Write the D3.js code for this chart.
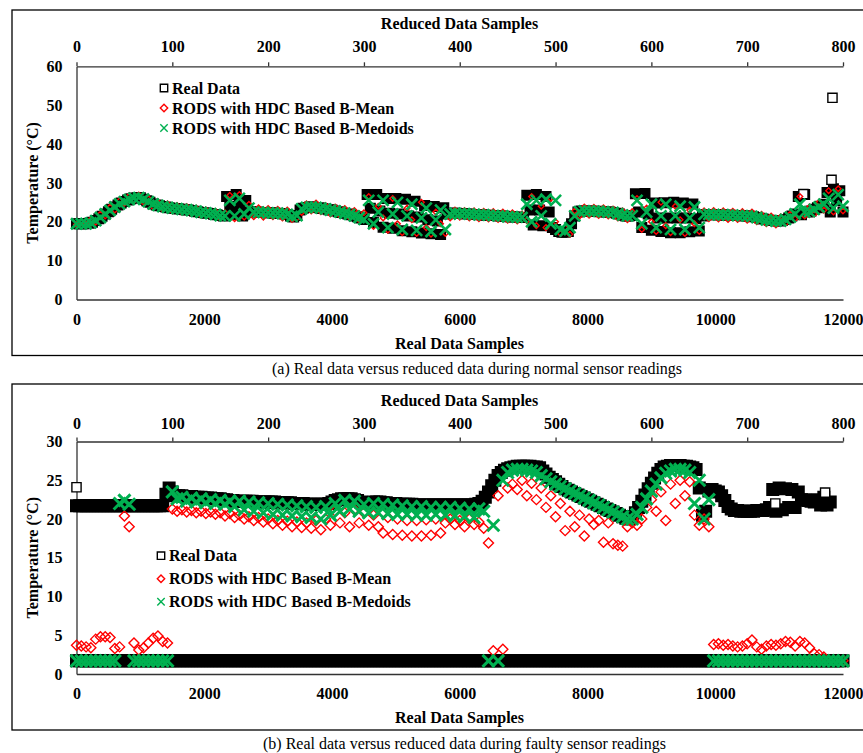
<!DOCTYPE html>
<html>
<head>
<meta charset="utf-8">
<script src="https://cdn.jsdelivr.net/npm/d3@7"></script>
<style>
  body { margin: 0; background: #fff; }
  svg { display: block; }
</style>
</head>
<body>
<div id="chart"></div>
<script>
// ---- data ----
const REAL_STEP = 50;   // real samples between two readings below
const RED_STEP = 5;     // reduced samples between two readings below

const realTicks = [0, 2000, 4000, 6000, 8000, 10000, 12000];
const reducedTicks = [0, 100, 200, 300, 400, 500, 600, 700, 800];
const tempTicksTop = [0, 10, 20, 30, 40, 50, 60];
const tempTicksBottom = [0, 5, 10, 15, 20, 25, 30];

const seriesNames = ["Real Data", "RODS with HDC Based B-Mean", "RODS with HDC Based B-Medoids"];

// (a) normal readings, real data every 50 samples (0..12000)
const realTop = [
  19.5, 19.5, 19.5, 19.5, 19.6, 19.9, 20.3, 20.8, 21.4, 22.0,
  22.6, 23.2, 23.8, 24.3, 24.8, 25.2, 25.6, 25.9, 26.1, 26.2,
  26.2, 25.8, 25.4, 25.0, 24.6, 24.3, 24.1, 23.9, 23.8, 23.6,
  23.5, 23.4, 23.3, 23.2, 23.1, 23.0, 22.9, 22.7, 22.6, 22.4,
  22.3, 22.2, 22.1, 21.9, 21.8, 21.6, 21.5, 26.5, 24.0, 21.8,
  27.0, 24.2, 21.5, 25.5, 22.6, 22.6, 22.5, 22.5, 22.4, 22.4,
  22.3, 22.3, 22.2, 22.2, 22.1, 22.0, 21.9, 21.5, 21.2, 21.6,
  23.0, 23.5, 23.7, 23.8, 23.8, 23.7, 23.6, 23.4, 23.3, 23.1,
  23.0, 22.8, 22.6, 22.4, 22.2, 22.0, 21.8, 21.5, 21.3, 21.0,
  20.6, 27.0, 23.5, 19.8, 27.0, 22.8, 18.6, 26.0, 22.2, 18.3,
  26.0, 22.0, 17.7, 25.8, 21.5, 17.4, 25.3, 21.2, 17.1, 24.2,
  20.5, 16.9, 23.9, 20.2, 16.7, 23.6, 22.0, 22.2, 22.2, 22.2,
  22.1, 22.1, 22.0, 22.0, 21.9, 21.9, 21.8, 21.8, 21.7, 21.7,
  21.6, 21.6, 21.5, 21.5, 21.4, 21.3, 21.3, 21.2, 21.2, 21.1,
  21.1, 26.8, 23.0, 19.2, 27.0, 23.0, 19.0, 26.5, 22.5, 18.5,
  18.0, 17.5, 17.3, 17.3, 17.5, 19.5, 21.5, 22.5, 22.8, 22.8,
  22.8, 22.7, 22.7, 22.7, 22.6, 22.6, 22.5, 22.5, 22.4, 22.2,
  22.0, 21.7, 21.5, 21.5, 21.6, 27.2, 22.5, 18.5, 27.3, 22.0,
  17.8, 24.8, 21.0, 17.5, 24.9, 21.0, 17.2, 25.0, 21.0, 17.2,
  24.8, 21.0, 17.4, 24.6, 20.8, 17.6, 21.5, 21.9, 21.9, 21.8,
  21.8, 21.8, 21.8, 21.7, 21.7, 21.7, 21.6, 21.6, 21.6, 21.5,
  21.5, 21.4, 21.3, 21.1, 20.9, 20.7, 20.5, 20.4, 20.3, 20.2,
  20.2, 20.3, 20.6, 21.0, 21.5, 22.0, 26.5, 21.8, 27.0, 22.5,
  22.8, 23.2, 23.6, 24.0, 24.5, 27.5, 22.5, 28.5, 25.5, 28.0,
  22.5
];
const realTopOddSamples = [11380, 11820, 11835];
const realTopOddValues = [27.1, 30.8, 51.9];

// (a) reduced data every 5 reduced samples (0..800)
const meanTop = [
  19.3, 19.8, 19.4, 20.6, 19.9, 22.0, 21.5, 23.8, 23.0, 25.4,
  24.8, 26.6, 25.4, 26.9, 25.0, 26.0, 23.8, 25.1, 23.2, 24.6,
  22.8, 24.2, 22.5, 23.9, 22.2, 23.5, 21.7, 23.1, 21.4, 22.7,
  21.0, 22.3, 26.8, 20.8, 27.0, 21.2, 24.5, 21.3, 23.6, 21.2,
  23.4, 21.3, 23.2, 21.0, 23.0, 20.6, 21.0, 22.4, 24.6, 22.8,
  24.8, 22.6, 24.2, 22.0, 23.8, 21.6, 23.4, 21.2, 22.9, 20.5,
  22.3, 26.5, 18.8, 24.0, 21.0, 17.8, 26.0, 19.5, 17.2, 23.5,
  20.5, 17.0, 25.0, 18.5, 16.8, 22.5, 19.5, 17.0, 21.0, 23.0,
  21.2, 22.9, 21.0, 22.8, 20.8, 22.7, 20.7, 22.6, 20.6, 22.5,
  20.4, 22.3, 20.2, 22.0, 20.3, 26.5, 19.0, 24.0, 18.5, 26.0,
  20.0, 17.0, 18.5, 16.8, 22.8, 21.5, 23.8, 21.7, 23.7, 21.6,
  23.6, 21.5, 23.3, 21.0, 22.8, 20.5, 22.6, 26.0, 18.0, 23.5,
  20.0, 17.5, 25.0, 19.0, 17.2, 24.0, 20.5, 17.0, 23.0, 19.5,
  17.5, 22.8, 20.8, 22.9, 20.7, 22.8, 20.6, 22.7, 20.6, 22.6,
  20.4, 22.5, 20.0, 21.9, 19.5, 21.5, 19.2, 21.3, 19.6, 22.0,
  20.8, 26.5, 21.5, 23.8, 22.0, 25.0, 23.0, 28.0, 22.5, 28.5,
  22.8
];
const medoidTop = [
  19.5, 19.5, 19.5, 19.7, 20.3, 21.1, 22.0, 22.9, 23.8, 24.6,
  25.2, 25.7, 26.1, 26.2, 25.8, 25.2, 24.6, 24.2, 23.9, 23.7,
  23.5, 23.4, 23.2, 23.1, 22.9, 22.7, 22.4, 22.3, 22.1, 21.9,
  21.6, 21.5, 25.5, 21.5, 26.0, 22.0, 23.5, 22.5, 22.5, 22.4,
  22.3, 22.3, 22.2, 22.1, 21.9, 21.4, 21.6, 23.3, 23.7, 23.8,
  23.7, 23.5, 23.3, 23.0, 22.8, 22.5, 22.2, 21.9, 21.5, 21.1,
  20.6, 25.5, 19.5, 22.5, 25.5, 18.5, 22.0, 25.0, 18.0, 21.5,
  24.5, 17.8, 21.0, 23.5, 17.5, 20.5, 23.0, 18.0, 22.0, 22.2,
  22.1, 22.1, 22.0, 21.9, 21.8, 21.8, 21.7, 21.6, 21.5, 21.5,
  21.3, 21.3, 21.2, 21.1, 24.5, 20.0, 25.5, 21.5, 25.8, 19.5,
  25.5, 18.0, 17.6, 18.5, 21.5, 22.6, 22.8, 22.8, 22.7, 22.7,
  22.6, 22.5, 22.4, 22.1, 21.7, 21.5, 21.6, 25.5, 19.5, 22.5,
  24.5, 18.5, 21.5, 24.5, 18.0, 21.5, 24.0, 18.0, 21.0, 23.8,
  18.5, 21.9, 21.9, 21.8, 21.8, 21.8, 21.7, 21.7, 21.6, 21.6,
  21.5, 21.4, 21.1, 20.8, 20.5, 20.3, 20.2, 20.2, 20.6, 21.2,
  22.0, 24.5, 22.5, 22.6, 23.2, 23.8, 24.5, 26.0, 23.5, 27.0,
  24.0
];

// (b) faulty readings, real data every 50 samples (0..11800)
const realBottom = [
  21.7, 21.7, 21.7, 21.7, 21.7, 21.7, 21.7, 21.7, 21.7, 21.7,
  21.7, 21.7, 21.7, 21.7, 21.7, 21.7, 21.7, 21.7, 21.7, 21.7,
  21.7, 21.7, 21.7, 21.7, 21.7, 21.7, 21.7, 21.7, 23.2, 24.0,
  23.5, 23.0, 23.0, 23.0, 22.9, 22.9, 22.9, 22.8, 22.8, 22.8,
  22.7, 22.7, 22.7, 22.6, 22.6, 22.6, 22.5, 22.5, 22.4, 22.4,
  22.3, 22.3, 22.3, 22.3, 22.3, 22.3, 22.2, 22.2, 22.2, 22.2,
  22.2, 22.2, 22.2, 22.1, 22.1, 22.1, 22.1, 22.1, 22.0, 22.0,
  22.0, 22.0, 21.9, 21.9, 21.9, 21.9, 21.9, 21.9, 21.9, 22.0,
  22.2, 22.4, 22.5, 22.6, 22.6, 22.6, 22.6, 22.5, 22.4, 22.2,
  22.1, 22.1, 22.1, 22.2, 22.2, 22.2, 22.1, 22.1, 22.0, 22.0,
  22.0, 21.9, 21.9, 21.9, 21.9, 21.9, 21.8, 21.8, 21.8, 21.8,
  21.8, 21.8, 21.8, 21.8, 21.8, 21.8, 21.8, 21.8, 21.8, 21.8,
  21.8, 21.8, 21.8, 21.8, 21.8, 21.9, 22.0, 22.3, 22.8, 23.5,
  24.3, 25.0, 25.6, 26.0, 26.3, 26.5, 26.6, 26.7, 26.8, 26.8,
  26.8, 26.8, 26.8, 26.7, 26.7, 26.6, 26.2, 25.8, 25.4, 25.1,
  24.8, 24.5, 24.2, 23.9, 23.7, 23.5, 23.3, 23.1, 22.9, 22.7,
  22.5, 22.3, 22.1, 21.9, 21.7, 21.5, 21.3, 21.1, 20.9, 20.7,
  20.5, 20.3, 20.1, 20.0, 20.3, 20.8, 21.5, 22.3, 23.1, 23.9,
  24.6, 25.3, 25.9, 26.4, 26.7, 26.8, 26.9, 26.9, 26.9, 26.9,
  26.8, 26.8, 26.7, 26.6, 26.4, 24.0, 20.5, 21.0, 23.6, 23.8,
  23.6, 23.5, 23.0, 22.4, 21.6, 21.3, 21.1, 21.1, 21.0, 21.0,
  21.0, 21.0, 21.0, 21.1, 21.1, 21.1, 21.2, 21.5, 23.8, 21.0,
  24.0, 21.2, 23.9, 21.5, 23.8, 21.5, 23.5, 22.5, 22.5, 22.4,
  22.3, 22.2, 22.5, 21.8, 22.8, 21.8, 22.2
];
// faulty sensor readings of the real data, every 50 samples (0..12000)
const realBottomFault = [
  1.7, 1.7, 1.7, 1.7, 1.7, 1.7, 1.7, 1.7, 1.7, 1.7,
  1.7, 1.7, 1.7, 1.7, 1.7, 1.7, 1.7, 1.7, 1.7, 1.7,
  1.7, 1.7, 1.7, 1.7, 1.7, 1.7, 1.7, 1.7, 1.7, 1.7,
  1.7, 1.7, 1.7, 1.7, 1.7, 1.7, 1.7, 1.7, 1.7, 1.7,
  1.7, 1.7, 1.7, 1.7, 1.7, 1.7, 1.7, 1.7, 1.7, 1.7,
  1.7, 1.7, 1.7, 1.7, 1.7, 1.7, 1.7, 1.7, 1.7, 1.7,
  1.7, 1.7, 1.7, 1.7, 1.7, 1.7, 1.7, 1.7, 1.7, 1.7,
  1.7, 1.7, 1.7, 1.7, 1.7, 1.7, 1.7, 1.7, 1.7, 1.7,
  1.7, 1.7, 1.7, 1.7, 1.7, 1.7, 1.7, 1.7, 1.7, 1.7,
  1.7, 1.7, 1.7, 1.7, 1.7, 1.7, 1.7, 1.7, 1.7, 1.7,
  1.7, 1.7, 1.7, 1.7, 1.7, 1.7, 1.7, 1.7, 1.7, 1.7,
  1.7, 1.7, 1.7, 1.7, 1.7, 1.7, 1.7, 1.7, 1.7, 1.7,
  1.7, 1.7, 1.7, 1.7, 1.7, 1.7, 1.7, 1.7, 1.7, 1.7,
  1.7, 1.7, 1.7, 1.7, 1.7, 1.7, 1.7, 1.7, 1.7, 1.7,
  1.7, 1.7, 1.7, 1.7, 1.7, 1.7, 1.7, 1.7, 1.7, 1.7,
  1.7, 1.7, 1.7, 1.7, 1.7, 1.7, 1.7, 1.7, 1.7, 1.7,
  1.7, 1.7, 1.7, 1.7, 1.7, 1.7, 1.7, 1.7, 1.7, 1.7,
  1.7, 1.7, 1.7, 1.7, 1.7, 1.7, 1.7, 1.7, 1.7, 1.7,
  1.7, 1.7, 1.7, 1.7, 1.7, 1.7, 1.7, 1.7, 1.7, 1.7,
  1.7, 1.7, 1.7, 1.7, 1.7, 1.7, 1.7, 1.7, 1.7, 1.7,
  1.7, 1.7, 1.7, 1.7, 1.7, 1.7, 1.7, 1.7, 1.7, 1.7,
  1.7, 1.7, 1.7, 1.7, 1.7, 1.7, 1.7, 1.7, 1.7, 1.7,
  1.7, 1.7, 1.7, 1.7, 1.7, 1.7, 1.7, 1.7, 1.7, 1.7,
  1.7, 1.7, 1.7, 1.7, 1.7, 1.7, 1.7, 1.7, 1.7, 1.7,
  1.7
];
const realBottomOddSamples = [0, 10940, 11720];
const realBottomOddValues = [24.1, 22.0, 23.4];

// (b) reduced data every 5 reduced samples (0..800)
const meanBottom = [
  3.7, 3.6, 3.5, 3.4, 4.5, 4.8, 4.8, 4.7, 3.3, 3.5,
  20.4, 19.0, 4.0, 3.1, 3.4, 4.0, 4.6, 4.9, 4.2, 4.0,
  21.3, 21.0, 21.2, 20.9, 21.1, 20.8, 21.0, 20.7, 20.9, 20.6,
  20.8, 20.4, 20.7, 20.2, 20.5, 20.0, 20.3, 19.8, 20.2, 19.6,
  20.0, 19.4, 19.8, 19.2, 19.7, 19.0, 19.6, 18.9, 19.5, 18.8,
  19.8, 18.6, 20.0, 19.2, 21.0, 19.5, 20.8, 19.0, 21.2, 19.5,
  20.8, 19.2, 20.5, 19.0, 18.2, 20.2, 18.0, 20.0, 17.9, 19.8,
  17.8, 19.8, 17.8, 19.9, 17.9, 20.0, 18.2, 19.5, 20.0, 19.3,
  19.8, 19.0, 20.0, 19.3, 19.6, 18.8, 16.9, 3.0, 23.0, 3.2,
  24.0, 24.5, 23.8, 25.0, 23.0, 24.6, 22.5, 24.0, 21.5, 23.0,
  20.3, 22.0, 18.5, 21.0, 19.0, 20.5, 17.8, 20.0, 19.3, 19.8,
  17.0, 19.5, 16.8, 16.6, 16.5, 19.0, 19.5, 19.2, 20.0, 21.5,
  22.5, 21.0, 23.5, 19.8, 24.5, 22.0, 25.0, 23.0, 24.8, 20.5,
  19.2, 20.0, 19.0, 3.8, 3.9, 3.7, 3.8, 3.6, 3.5, 3.6,
  3.9, 4.4, 3.5, 3.2, 3.6, 3.8, 3.7, 3.9, 4.2, 4.1,
  3.6, 4.2, 4.0, 3.4, 2.6, 2.5, 2.2, 1.7, 1.7, 1.7,
  1.7
];
const medoidBottom = [
  1.7, 1.7, 1.7, 1.7, 1.7, 1.7, 1.7, 1.7, 1.7, 22.0,
  22.4, 21.9, 1.7, 1.7, 1.7, 1.7, 1.7, 1.7, 1.7, 1.7,
  23.5, 22.6, 22.8, 22.3, 22.7, 22.2, 22.6, 22.1, 22.5, 22.0,
  22.4, 21.9, 22.3, 21.6, 22.3, 21.2, 22.2, 21.0, 22.1, 20.8,
  22.0, 20.6, 21.9, 20.5, 21.8, 20.4, 21.7, 20.3, 21.6, 20.2,
  21.5, 20.0, 21.6, 20.5, 22.0, 21.0, 22.4, 21.3, 22.3, 21.0,
  21.9, 20.8, 22.0, 20.8, 21.9, 20.7, 21.8, 20.6, 21.7, 20.6,
  21.6, 20.5, 21.6, 20.5, 21.5, 20.6, 21.5, 20.5, 21.5, 20.4,
  21.4, 20.3, 21.3, 20.2, 21.3, 21.0, 1.7, 19.2, 1.7, 25.0,
  26.0, 26.3, 26.4, 26.4, 26.3, 26.2, 26.0, 25.6, 25.2, 24.8,
  24.5, 24.2, 23.9, 23.6, 23.3, 23.0, 22.7, 22.4, 22.1, 21.8,
  21.5, 21.2, 20.9, 20.6, 20.3, 20.0, 20.0, 20.6, 21.5, 22.6,
  23.6, 24.5, 25.3, 25.9, 26.2, 26.4, 26.4, 26.3, 26.0, 22.0,
  25.0, 20.0, 22.5, 1.7, 1.7, 1.7, 1.7, 1.7, 1.7, 1.7,
  1.7, 1.7, 1.7, 1.7, 1.7, 1.7, 1.7, 1.7, 1.7, 1.7,
  1.7, 1.7, 1.7, 1.7, 1.7, 1.7, 1.7, 1.7, 1.7, 1.7,
  1.7
];

// ---- drawing ----
const W = 863, H = 753;
const FONT = "'Liberation Serif','Times New Roman','DejaVu Serif',serif";
const GREEN = "#00b050", RED = "#ff0000";

const svg = d3.select("#chart").append("svg").attr("width", W).attr("height", H);

const xReal = d3.scaleLinear().domain([0, 12000]).range([76.5, 843]);
const xRed = d3.scaleLinear().domain([0, 800]).range([76.5, 843]);

function markerPath(kind, cx, cy, h) {
  if (kind === "square") return `M${cx - h},${cy - h}h${2 * h}v${2 * h}h${-2 * h}Z`;
  if (kind === "diamond") return `M${cx},${cy - h}L${cx + h},${cy}L${cx},${cy + h}L${cx - h},${cy}Z`;
  return `M${cx - h},${cy - h}L${cx + h},${cy + h}M${cx - h},${cy + h}L${cx + h},${cy - h}`;
}

// dense runs of hollow markers overlap into a solid band, so fill can be set
function drawSeries(g, pts, kind, color, h, sw, fill) {
  g.append("g")
    .selectAll("path")
    .data(pts)
    .enter()
    .append("path")
    .attr("d", (d) => markerPath(kind, d[0], d[1], h))
    .attr("fill", fill || "none")
    .attr("stroke", color)
    .attr("stroke-width", sw);
}

function styleAxis(ax) {
  ax.attr("font-family", FONT).attr("font-size", 16).attr("font-weight", "bold");
  ax.selectAll("text").attr("fill", "#000");
  ax.selectAll("path, line").attr("stroke", "#333").attr("stroke-width", 1.3);
}

function drawPanel(p) {
  const g = svg.append("g");
  const y = d3.scaleLinear().domain([0, p.yMax]).range([p.yBottom, p.yTop]);
  const fmt = d3.format("d");

  // panel frame
  g.append("rect")
    .attr("x", 12).attr("y", p.boxTop)
    .attr("width", 880).attr("height", p.boxBottom - p.boxTop)
    .attr("fill", "none").attr("stroke", "#000").attr("stroke-width", 1.3);

  // axes
  const axB = g.append("g").attr("transform", `translate(0,${p.yBottom})`)
    .call(d3.axisBottom(xReal).tickValues(realTicks).tickFormat(fmt).tickSize(0).tickSizeOuter(0).tickPadding(14));
  styleAxis(axB);
  const axT = g.append("g").attr("transform", `translate(0,${p.yTop})`)
    .call(d3.axisTop(xRed).tickValues(reducedTicks).tickFormat(fmt).tickSize(4).tickSizeOuter(0).tickPadding(p.topPad));
  styleAxis(axT);
  const axL = g.append("g").attr("transform", `translate(${xReal(0)},0)`)
    .call(d3.axisLeft(y).tickValues(p.yTicks).tickFormat(fmt).tickSize(0).tickSizeOuter(0).tickPadding(14));
  styleAxis(axL);

  // axis titles
  g.append("text").attr("x", 459.5).attr("y", p.topTitleY).attr("text-anchor", "middle")
    .attr("font-family", FONT).attr("font-size", 16).attr("font-weight", "bold").text("Reduced Data Samples");
  g.append("text").attr("x", 459.5).attr("y", p.bottomTitleY).attr("text-anchor", "middle")
    .attr("font-family", FONT).attr("font-size", 16).attr("font-weight", "bold").text("Real Data Samples");
  g.append("text")
    .attr("transform", `translate(38,${(p.yTop + p.yBottom) / 2}) rotate(-90)`)
    .attr("text-anchor", "middle")
    .attr("font-family", FONT).attr("font-size", 16).attr("font-weight", "bold").text("Temperature (°C)");

  // caption
  g.append("text").attr("x", p.captionX).attr("y", p.captionY)
    .attr("font-family", FONT).attr("font-size", 16).text(p.caption);

  // marks
  const m = p.marks;
  p.real.forEach((arr) => {
    const pts = arr.map((v, i) => [xReal(i * REAL_STEP), y(v)]);
    drawSeries(g, pts, "square", "#000", m.sq, 2, "#000");
  });
  const odd = p.oddSamples.map((s, i) => [xReal(s), y(p.oddValues[i])]);
  drawSeries(g, odd, "square", "#000", 4.6, 1.4, "#fff");
  drawSeries(g, p.mean.map((v, i) => [xRed(i * RED_STEP), y(v)]), "diamond", RED, m.dm, 1.4);
  drawSeries(g, p.medoid.map((v, i) => [xRed(i * RED_STEP), y(v)]), "cross", GREEN, m.cr, m.crw);

  // legend
  const kinds = [["square", "#000"], ["diamond", RED], ["cross", GREEN]];
  seriesNames.forEach((name, i) => {
    const cy = p.legendY + i * p.legendGap;
    g.append("path").attr("d", markerPath(kinds[i][0], p.legendX, cy, 3.7))
      .attr("fill", "none").attr("stroke", kinds[i][1]).attr("stroke-width", 1.4);
    g.append("text").attr("x", p.legendX + 8).attr("y", cy + 5.5)
      .attr("font-family", FONT).attr("font-size", 16).attr("font-weight", "bold").text(name);
  });
}

drawPanel({
  boxTop: 10, boxBottom: 355.5,
  yTop: 66.3, yBottom: 299.5, yMax: 60, yTicks: tempTicksTop,
  topPad: 10, topTitleY: 28.5, bottomTitleY: 348.5,
  caption: "(a) Real data versus reduced data during normal sensor readings",
  captionX: 272, captionY: 373.5,
  real: [realTop], oddSamples: realTopOddSamples, oddValues: realTopOddValues,
  mean: meanTop, medoid: medoidTop,
  marks: { sq: 4.5, dm: 2.8, cr: 5.5, crw: 2.6 },
  legendX: 164, legendY: 88, legendGap: 20
});

drawPanel({
  boxTop: 384, boxBottom: 730,
  yTop: 441.5, yBottom: 674, yMax: 30, yTicks: tempTicksBottom,
  topPad: 8.5, topTitleY: 405.5, bottomTitleY: 722.5,
  caption: "(b) Real data versus reduced data during faulty sensor readings",
  captionX: 263, captionY: 748.5,
  real: [realBottom, realBottomFault], oddSamples: realBottomOddSamples, oddValues: realBottomOddValues,
  mean: meanBottom, medoid: medoidBottom,
  marks: { sq: 5.5, dm: 5, cr: 6, crw: 3 },
  legendX: 161, legendY: 555.7, legendGap: 23
});
</script>
</body>
</html>
